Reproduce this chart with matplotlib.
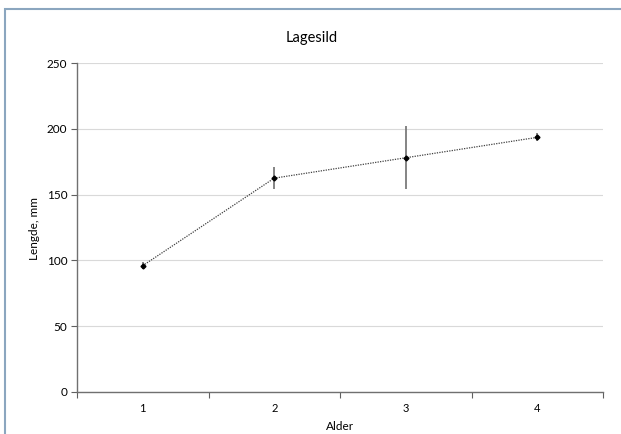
import matplotlib
matplotlib.use("Agg")
import matplotlib.pyplot as plt
from matplotlib.patches import Rectangle

ages = [1, 2, 3, 4]
lengths = [96, 162.5, 178, 193.5]
errors = [2.5, 8.5, 24, 3]
title = "Lagesild"
xlabel = "Alder"
ylabel = "Lengde, mm"
yticks = [0, 50, 100, 150, 200, 250]

plt.rcParams['font.family'] = ['Lato', 'DejaVu Sans']

fig = plt.figure(figsize=(6.21, 4.34), dpi=100)
fig.patches.append(Rectangle((5/621, -0.1), 1.2, 1 - 9/434 + 0.1, transform=fig.transFigure,
                             fill=False, edgecolor='#8BA6BF', linewidth=1.5))

ax = fig.add_axes([77/621, 1 - 392/434, (603 - 77)/621, (392 - 63)/434])
ax.errorbar(ages, lengths, yerr=errors, fmt='none', ecolor='#707070', elinewidth=1.2, capsize=0, zorder=2)
ax.plot(ages, lengths, linestyle=(0, (1, 1)), color='#404040', linewidth=0.9, zorder=3)
ax.plot(ages, lengths, linestyle='none', marker='D', markersize=2.5, color='black', zorder=4)

ax.set_xlim(0.5, 4.5)
ax.set_ylim(0, 250)
ax.set_yticks(yticks)
ax.set_xticks([0.5, 1.5, 2.5, 3.5, 4.5])
ax.set_xticklabels([])
ax.set_xticks(ages, minor=True)
ax.set_xticklabels([str(a) for a in ages], minor=True)
ax.tick_params(axis='x', which='minor', length=0, pad=8, labelsize=8)
ax.tick_params(axis='x', which='major', length=4, direction='out', color='#606060')
ax.tick_params(axis='y', length=4, direction='out', color='#606060', labelsize=8.5, pad=3)
ax.grid(axis='y', color='#D9D9D9', linewidth=0.8)
ax.set_axisbelow(True)
for s in ['top', 'right']:
    ax.spines[s].set_visible(False)
for s in ['left', 'bottom']:
    ax.spines[s].set_color('#707070')
    ax.spines[s].set_linewidth(1)

fig.text(312/621, 1 - 38/434, title, ha='center', va='center', fontsize=10.5)
fig.text(340/621, 1 - 426/434, xlabel, ha='center', va='center', fontsize=8.5)
fig.text(34/621, 1 - 228/434, ylabel, ha='center', va='center', rotation=90, fontsize=8.5)

fig.savefig("out.png", dpi=100)
